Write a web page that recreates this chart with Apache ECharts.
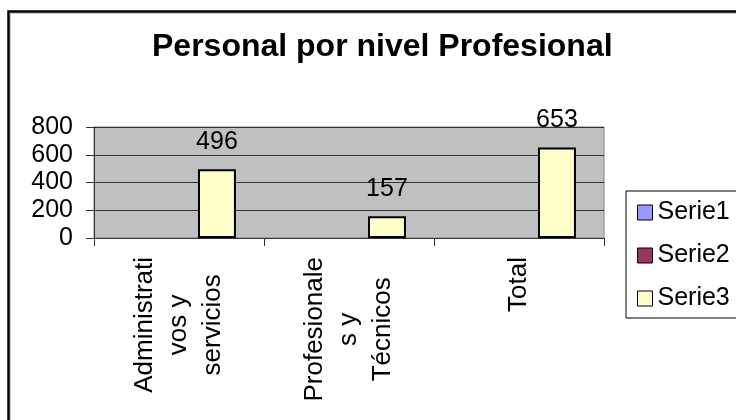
<!DOCTYPE html>
<html>
<head>
<meta charset="utf-8">
<script src="https://cdn.jsdelivr.net/npm/echarts@6/dist/echarts.min.js"></script>
<style>
html,body{margin:0;padding:0;background:#fff;}
#chart{width:736px;height:420px;}
</style>
</head>
<body>
<div id="chart"></div>
<script>
var titleText = 'Personal por nivel Profesional';
var categories = ['Administrativos y servicios', 'Profesionales y Técnicos', 'Total'];
var categoryLines = [['Administrati', 'vos y', 'servicios'], ['Profesionale', 's y', 'Técnicos'], ['Total']];
var seriesNames = ['Serie1', 'Serie2', 'Serie3'];
var serie1 = [null, null, null];
var serie2 = [null, null, null];
var serie3 = [496, 157, 653];
var yTicks = [0, 200, 400, 600, 800];

var FONT = 'Liberation Sans, Arial, sans-serif';
var chart = echarts.init(document.getElementById('chart'), null, {renderer: 'canvas'});

function barSeries(name, data, color, withLabel) {
  return {
    name: name,
    type: 'bar',
    data: data,
    barGap: '0%',
    barCategoryGap: '33%',
    itemStyle: {color: color, borderColor: '#000', borderWidth: 2},
    label: {
      show: withLabel,
      position: 'top',
      distance: 15,
      color: '#000',
      fontFamily: FONT,
      fontSize: 25
    },
    emphasis: {disabled: true}
  };
}

chart.setOption({
  animation: false,
  backgroundColor: '#fff',
  textStyle: {fontFamily: FONT},
  title: {
    text: titleText,
    left: 152,
    top: 31,
    padding: 0,
    textStyle: {fontFamily: FONT, fontSize: 32, fontWeight: 'bold', color: '#000'}
  },
  graphic: [{
    type: 'polyline',
    shape: {points: [[8.5, 430], [8.5, 11.5], [750, 11.5]]},
    style: {fill: null, stroke: '#000', lineWidth: 2.5},
    silent: true,
    z: 100
  }, {
    type: 'polyline',
    shape: {points: [[10.5, 430], [10.5, 13.5], [750, 13.5]]},
    style: {fill: null, stroke: '#C8C8C8', lineWidth: 1},
    silent: true,
    z: 99
  }],
  legend: {
    orient: 'vertical',
    left: 626,
    top: 191,
    padding: [9, 30, 7, 11],
    itemGap: 18,
    itemWidth: 15,
    itemHeight: 15,
    backgroundColor: '#fff',
    borderColor: '#000',
    borderWidth: 1,
    borderRadius: 0,
    icon: 'rect',
    itemStyle: {borderColor: '#000', borderWidth: 1},
    textStyle: {fontFamily: FONT, fontSize: 25, color: '#000', lineHeight: 24},
    data: seriesNames
  },
  grid: {
    left: 94,
    top: 127,
    right: 132,
    bottom: 182,
    show: true,
    backgroundColor: '#C0C0C0',
    borderColor: '#808080',
    borderWidth: 1,
    containLabel: false
  },
  xAxis: {
    type: 'category',
    data: categories,
    axisLine: {show: true, lineStyle: {color: '#333', width: 1}},
    axisTick: {show: true, length: 8, alignWithLabel: false, lineStyle: {color: '#333'}},
    axisLabel: {
      interval: 0,
      rotate: 90,
      margin: 19,
      color: '#000',
      fontFamily: FONT,
      fontSize: 26,
      lineHeight: 34,
      formatter: function (v, i) {
        return categoryLines[i].map(function (s) { return '{c|' + s + '}'; }).join('\n');
      },
      rich: {
        c: {align: 'center', fontFamily: FONT, fontSize: 26, lineHeight: 34, color: '#000'}
      }
    },
    splitLine: {show: false}
  },
  yAxis: {
    type: 'value',
    min: yTicks[0],
    max: yTicks[yTicks.length - 1],
    interval: 200,
    axisLine: {show: true, lineStyle: {color: '#333', width: 1}},
    axisTick: {show: true, length: 8, lineStyle: {color: '#333'}},
    axisLabel: {margin: 21, color: '#000', fontFamily: FONT, fontSize: 25},
    splitLine: {show: true, lineStyle: {color: '#333', width: 1}}
  },
  series: [
    barSeries(seriesNames[0], serie1, '#9999FF', false),
    barSeries(seriesNames[1], serie2, '#993366', false),
    barSeries(seriesNames[2], serie3, '#FFFFCC', true)
  ]
});
</script>
</body>
</html>
